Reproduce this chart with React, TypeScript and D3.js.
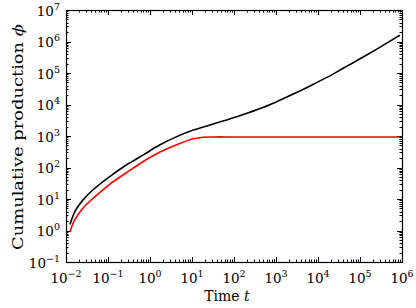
import { useEffect, useRef } from "react";
import * as d3 from "d3";

// (time t, cumulative production)
const blackT = [0.01245, 0.01637, 0.0258, 0.0447, 0.1117, 0.2786, 0.692, 1.73, 4.32, 10.7, 26.9, 67, 166, 417, 1040, 2570, 6460, 16200, 39800, 100000, 251000, 891000];
const blackV = [1.55, 4.07, 9.55, 20, 52.5, 122, 251, 525, 955, 1550, 2240, 3240, 4790, 7410, 12300, 21400, 38900, 72400, 141000, 282000, 575000, 1580000];
const redT = [0.01245, 0.01637, 0.0258, 0.0447, 0.1117, 0.2786, 0.692, 1.73, 4.32, 10.7, 18.6, 32.4, 100, 1000, 10000, 100000, 891000];
const redV = [0.91, 2.24, 5.25, 10.7, 29.9, 69.2, 155, 309, 525, 813, 912, 933, 933, 933, 933, 933, 933];
const xDecades = [-2, -1, 0, 1, 2, 3, 4, 5, 6];
const yDecades = [-1, 0, 1, 2, 3, 4, 5, 6, 7];

const FONT = "'DejaVu Serif', 'Liberation Serif', serif";

const App = () => {
    const ref = useRef<SVGSVGElement>(null);

    useEffect(() => {
        const svg = d3.select(ref.current);
        svg.selectAll("*").remove();

        const left = 66, right = 402, top = 10, bottom = 262;

        const x = d3.scaleLog().domain([1e-2, 1e6]).range([left, right]);
        const y = d3.scaleLog().domain([1e-1, 1e7]).range([bottom, top]);

        // minor ticks 2..9 in every decade
        const minor = (dec: number[]) => {
            const out: number[] = [];
            dec.slice(0, -1).forEach((d) => {
                for (let k = 2; k <= 9; k++) out.push(k * Math.pow(10, d));
            });
            return out;
        };

        // ticks point inward on all four sides
        const ticks = svg.append("g").attr("stroke", "#000").attr("stroke-width", 1);
        const xTick = (v: number, len: number) => {
            const px = Math.round(x(v)) + 0.5;
            ticks.append("line").attr("x1", px).attr("x2", px).attr("y1", bottom).attr("y2", bottom - len);
            ticks.append("line").attr("x1", px).attr("x2", px).attr("y1", top).attr("y2", top + len);
        };
        const yTick = (v: number, len: number) => {
            const py = Math.round(y(v)) + 0.5;
            ticks.append("line").attr("x1", left).attr("x2", left + len).attr("y1", py).attr("y2", py);
            ticks.append("line").attr("x1", right).attr("x2", right - len).attr("y1", py).attr("y2", py);
        };
        xDecades.forEach((d) => xTick(Math.pow(10, d), 5));
        minor(xDecades).forEach((v) => xTick(v, 2.5));
        yDecades.forEach((d) => yTick(Math.pow(10, d), 5));
        minor(yDecades).forEach((v) => yTick(v, 2.5));

        // the two curves
        const path = d3
            .line<[number, number]>()
            .x((d) => x(d[0]))
            .y((d) => y(d[1]))
            .curve(d3.curveCatmullRom.alpha(0.5));

        svg.append("path")
            .datum(blackT.map((t, i) => [t, blackV[i]] as [number, number]))
            .attr("fill", "none")
            .attr("stroke", "#000")
            .attr("stroke-width", 1.6)
            .attr("stroke-linejoin", "round")
            .attr("d", path);

        svg.append("path")
            .datum(redT.map((t, i) => [t, redV[i]] as [number, number]))
            .attr("fill", "none")
            .attr("stroke", "#ff0000")
            .attr("stroke-width", 1.6)
            .attr("stroke-linejoin", "round")
            .attr("d", path);

        // frame
        svg.append("rect")
            .attr("x", left + 0.5)
            .attr("y", top + 0.5)
            .attr("width", right - left)
            .attr("height", bottom - top)
            .attr("fill", "none")
            .attr("stroke", "#000")
            .attr("stroke-width", 1.2);

        // tick labels
        const label = (g: any, d: number) => {
            g.append("tspan").text("10");
            g.append("tspan").attr("dy", -6).attr("font-size", 9.5).text(d < 0 ? "\u2212" + -d : String(d));
        };
        const xl = svg.append("g").attr("font-family", FONT).attr("font-size", 13.5).attr("fill", "#000");
        xDecades.forEach((d) => {
            const t = xl.append("text").attr("x", x(Math.pow(10, d))).attr("y", 283).attr("text-anchor", "middle");
            label(t, d);
        });
        const yl = svg.append("g").attr("font-family", FONT).attr("font-size", 13.5).attr("fill", "#000");
        yDecades.forEach((d) => {
            const t = yl.append("text").attr("x", 60).attr("y", y(Math.pow(10, d)) + 5.5).attr("text-anchor", "end");
            label(t, d);
        });

        // axis titles
        const xt = svg.append("text")
            .attr("x", 227)
            .attr("y", 301)
            .attr("text-anchor", "middle")
            .attr("font-family", FONT)
            .attr("font-size", 14)
            .attr("fill", "#000");
        xt.append("tspan").text("Time ");
        xt.append("tspan").attr("font-style", "italic").text("t");

        const yt = svg.append("text")
            .attr("transform", `translate(23,137) rotate(-90)`)
            .attr("text-anchor", "middle")
            .attr("font-family", FONT)
            .attr("font-size", 15)
            .attr("textLength", 226)
            .attr("lengthAdjust", "spacingAndGlyphs")
            .attr("fill", "#000");
        yt.append("tspan").text("Cumulative production ");
        yt.append("tspan").attr("font-style", "italic").text("\u03d5");
    }, []);

    return (
        <svg
            ref={ref}
            width={416}
            height={308}
            style={{ position: "absolute", left: 0, top: 0, background: "#fff" }}
        ></svg>
    );
};

export default App;
